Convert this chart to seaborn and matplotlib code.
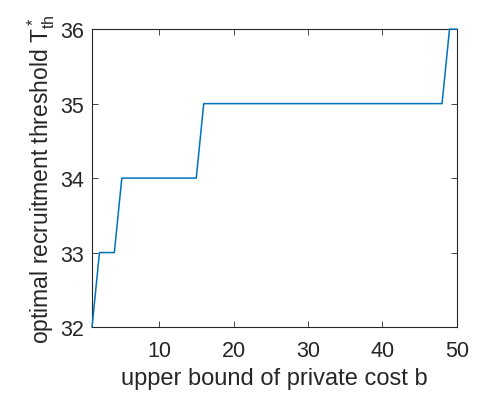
import matplotlib
matplotlib.use("Agg")
import matplotlib.pyplot as plt
import seaborn as sns
import pandas as pd

b_values = list(range(1, 51))
threshold = [32] + [33]*3 + [34]*11 + [35]*33 + [36]*2
x_ticks = [10, 20, 30, 40, 50]
y_ticks = [32, 33, 34, 35, 36]

sns.set_theme(style="white")
plt.rcParams['font.family'] = ['Liberation Sans', 'DejaVu Sans']
plt.rcParams['mathtext.fontset'] = 'custom'
plt.rcParams['mathtext.rm'] = 'Liberation Sans'

df = pd.DataFrame({"b": b_values, "T": threshold})

fig = plt.figure(figsize=(4.8, 4.02), dpi=100)
ax = fig.add_axes([0.1917, 0.184, 0.7603, 0.741])
sns.lineplot(data=df, x="b", y="T", ax=ax, color="#0072BD", linewidth=1.1)
for ln in ax.lines:
    ln.set_clip_on(False)
    ln.set_zorder(5)

ax.set_xlim(1, 50)
ax.set_ylim(32, 36)
ax.set_xticks(x_ticks)
ax.set_yticks(y_ticks)
ax.tick_params(direction="in", length=4, width=0.6, colors="#262626",
               labelsize=15.5, top=True, right=True, bottom=True, left=True,
               labelcolor="#262626", pad=6)
ax.tick_params(axis="x", pad=9)
for s in ax.spines.values():
    s.set_visible(True)
    s.set_color("#262626")
    s.set_linewidth(0.8)
ax.set_xlabel("upper bound of private cost b", fontsize=17, color="#262626", labelpad=5)
ax.set_ylabel(r"optimal recruitment threshold $\mathregular{T^*_{th}}$", fontsize=16.5,
              color="#262626", labelpad=2)

fig.savefig("out.png", dpi=100)
